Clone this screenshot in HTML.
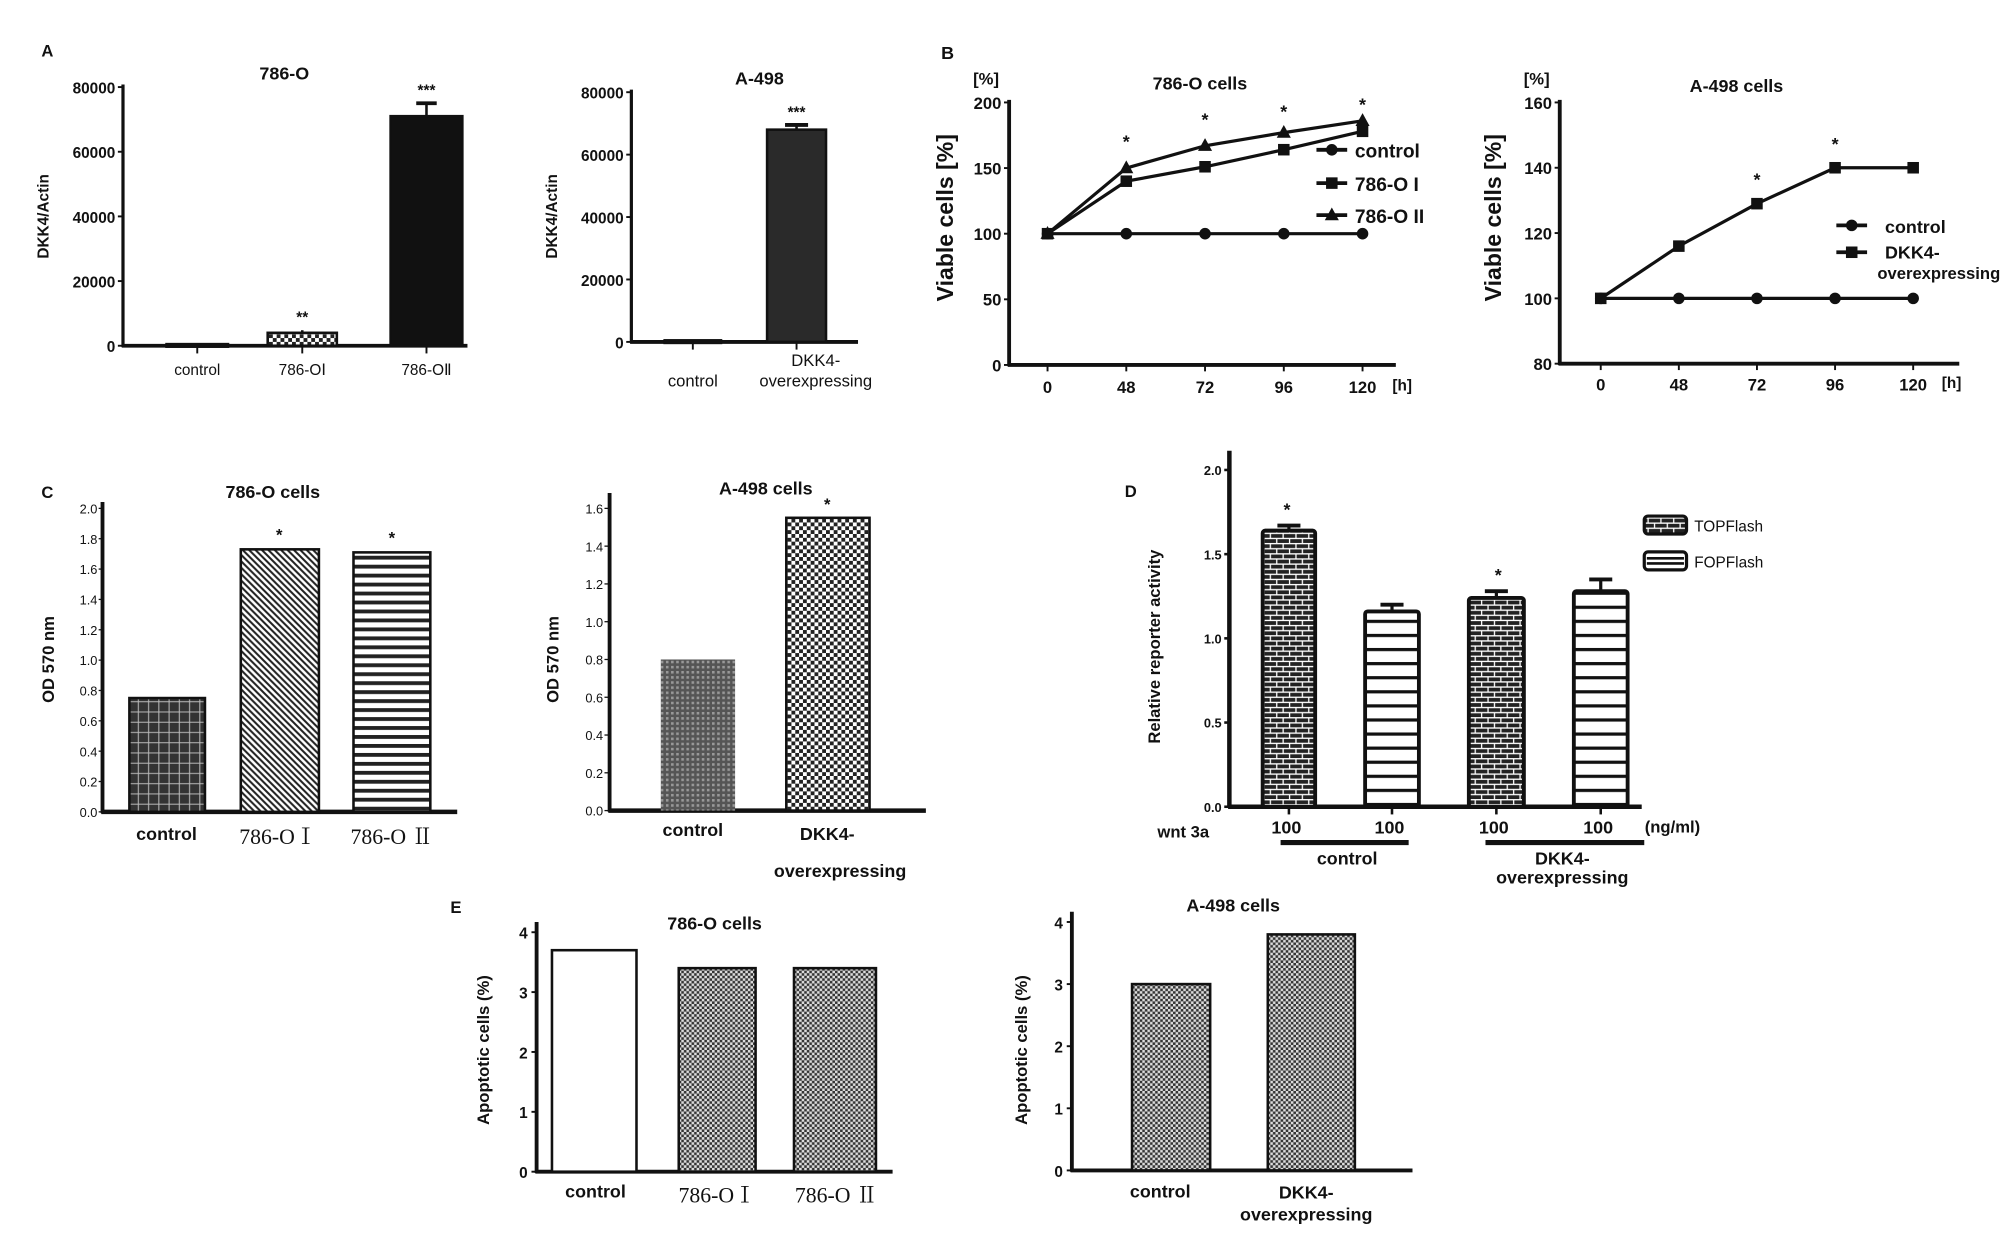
<!DOCTYPE html>
<html><head><meta charset="utf-8"><style>
html,body{margin:0;padding:0;background:#fff;}
svg{display:block;}
text{font-family:"Liberation Sans",sans-serif;fill:#111;}
.b{font-weight:bold;}
.s{font-family:"Liberation Serif","Noto Serif CJK SC",serif;}
</style></head><body>
<svg id="fig" xmlns="http://www.w3.org/2000/svg" width="2008" height="1237" viewBox="0 0 1568 966">
<defs>
<pattern id="checker" width="6" height="6" patternUnits="userSpaceOnUse"><rect width="6" height="6" fill="#222"/><rect width="3" height="3" fill="#fff"/><rect x="3" y="3" width="3" height="3" fill="#fff"/></pattern>
<pattern id="checkerFine" width="4" height="4" patternUnits="userSpaceOnUse"><rect width="4" height="4" fill="#333"/><rect width="2" height="2" fill="#ddd"/><rect x="2" y="2" width="2" height="2" fill="#ddd"/></pattern>
<pattern id="dots" width="4" height="4" patternUnits="userSpaceOnUse"><rect width="4" height="4" fill="#555"/><rect width="2" height="2" fill="#999"/></pattern>
<pattern id="diag" width="5" height="5" patternUnits="userSpaceOnUse"><rect width="5" height="5" fill="#fff"/><path d="M0,0 L5,5 M-1,4 L1,6 M4,-1 L6,1" stroke="#222" stroke-width="1.6"/></pattern>
<pattern id="hstripe" width="6" height="7" patternUnits="userSpaceOnUse"><rect width="6" height="7" fill="#fff"/><rect y="0" width="6" height="3" fill="#222"/></pattern>
<pattern id="hstripe2" width="6" height="11" patternUnits="userSpaceOnUse"><rect width="6" height="11" fill="#fff"/><rect y="0" width="6" height="2.5" fill="#111"/></pattern>
<pattern id="brick" width="10" height="8" patternUnits="userSpaceOnUse"><rect width="10" height="8" fill="#222"/><path d="M0,0.5 H10 M0,4.5 H10 M2,0 V4 M7,4 V8" stroke="#fff" stroke-width="1"/></pattern>
<pattern id="grid" width="8" height="8" patternUnits="userSpaceOnUse"><rect width="8" height="8" fill="#333"/><path d="M0,4 H8 M4,0 V8" stroke="#bbb" stroke-width="0.8"/></pattern>
</defs>
<g id="root"></g>
</svg>
<script>
// ---------- data ----------
const aLeftCats = ["control","786-OⅠ","786-OⅡ"];
const aLeftVals = [500,4000,71000];
const aLeftErr = [600,4800,75000];
const aLeftTicks = [0,20000,40000,60000,80000];
const aRightCats = ["control","DKK4-overexpressing"];
const aRightVals = [500,68000];
const aRightErr = [600,69500];
const bHours = [0,48,72,96,120];
const bLeftControl = [100,100,100,100,100];
const bLeftOI = [100,140,151,164,178];
const bLeftOII = [100,150,167,177,186];
const bLeftTicks = [0,50,100,150,200];
const bRightControl = [100,100,100,100,100];
const bRightDKK4 = [100,116,129,140,140];
const bRightTicks = [80,100,120,140,160];
const cLeftCats = ["control","786-OⅠ","786-O Ⅱ"];
const cLeftVals = [0.75,1.73,1.71];
const cLeftTicks = ["0.0","0.2","0.4","0.6","0.8","1.0","1.2","1.4","1.6","1.8","2.0"];
const cRightCats = ["control","DKK4-overexpressing"];
const cRightVals = [0.80,1.55];
const cRightTicks = ["0.0","0.2","0.4","0.6","0.8","1.0","1.2","1.4","1.6"];
const dVals = [1.64,1.16,1.24,1.28];
const dErr = [1.67,1.20,1.28,1.35];
const dTicks = ["0.0","0.5","1.0","1.5","2.0"];
const eLeftCats = ["control","786-OⅠ","786-O Ⅱ"];
const eLeftVals = [3.7,3.4,3.4];
const eRightCats = ["control","DKK4-overexpressing"];
const eRightVals = [3.0,3.8];
const eTicks = [0,1,2,3,4];

const NS="http://www.w3.org/2000/svg";
const root=document.getElementById('root');
function el(tag,attrs,txt){const e=document.createElementNS(NS,tag);for(const k in attrs)e.setAttribute(k,attrs[k]);if(txt!==undefined)e.textContent=txt;root.appendChild(e);return e;}
function T(x,y,s,size,cls,anchor){const e=el('text',{x:x,y:y,'font-size':size,'text-anchor':anchor||'middle','class':cls||''},s);return e;}
function VT(x,y,s,size,cls){const e=el('text',{x:0,y:0,'font-size':size,'text-anchor':'middle','class':cls||'',transform:`translate(${x},${y}) rotate(-90)`},s);return e;}
function lin(d0,d1,r0,r1){return v=>r0+(v-d0)*(r1-r0)/(d1-d0);}
function line(x1,y1,x2,y2,w){return el('line',{x1,y1,x2,y2,stroke:'#111','stroke-width':w||2});}

// ---------- Panel A ----------
let t;
t=T(37,44,"A",13,"b");
t=T(222,62,"786-O",14,"b");
let y=lin(0,80000,270,68);
line(96,66,96,271,2.5);line(95,270,365,270,3);
aLeftTicks.forEach(v=>{line(92,y(v),96,y(v),1.5);t=T(90,y(v)+5,String(v),12,"b","end");});
t=VT(38,169,"DKK4/Actin",12,"b");
const aLC=[154,236,333],aLW=[48,54,56],aLF=["#222","url(#checker)","#111"];
aLeftVals.forEach((v,i)=>{
 line(aLC[i],aLeftErr[i]>v?y(aLeftErr[i]):y(v),aLC[i],y(v),2);
 if(aLeftErr[i]>v+800) line(aLC[i]-8,y(aLeftErr[i]),aLC[i]+8,y(aLeftErr[i]),3);
 const r=el('rect',{x:aLC[i]-aLW[i]/2,y:y(v),width:aLW[i],height:Math.max(2,270-y(v)),fill:aLF[i],stroke:'#111','stroke-width':2});
 
 line(aLC[i],270,aLC[i],276,1.5);
 t=T(aLC[i],293,aLeftCats[i],12,"");
});
T(236,y(aLeftErr[1])-6,"**",12,"b");T(333,y(aLeftErr[2])-6,"***",12,"b");

t=T(593,66,"A-498",14,"b");
y=lin(0,80000,267,72);
line(493,70,493,268,2.5);line(492,267,670,267,3);
aLeftTicks.forEach(v=>{line(489,y(v),493,y(v),1.5);t=T(487,y(v)+5,String(v),12,"b","end");});
t=VT(435,169,"DKK4/Actin",12,"b");
const aRC=[541,622],aRW=[44,46];
aRightVals.forEach((v,i)=>{
 if(aRightErr[i]>v+800){line(aRC[i],y(aRightErr[i]),aRC[i],y(v),2);line(aRC[i]-9,y(aRightErr[i]),aRC[i]+9,y(aRightErr[i]),3);}
 const r=el('rect',{x:aRC[i]-aRW[i]/2,y:y(v),width:aRW[i],height:Math.max(2,267-y(v)),fill:'#2a2a2a',stroke:'#111','stroke-width':2});
 
 line(aRC[i],267,aRC[i],273,1.5);
});
T(622,y(aRightErr[1])-6,"***",12,"b");
T(541,302,"control",13,"");T(637,286,"DKK4-",13,"");T(637,302,"overexpressing",13,"");

// ---------- Panel B ----------
function stars(xs,ys){xs.forEach((x,i)=>T(x,ys[i],"*",14,"b"));}
function marker(type,x,y){
 if(type==='c')return el('circle',{cx:x,cy:y,r:4.5,fill:'#111'});
 if(type==='s')return el('rect',{x:x-4.5,y:y-4.5,width:9,height:9,fill:'#111'});
 return el('path',{d:`M${x},${y-6} L${x+5.5},${y+4} L${x-5.5},${y+4} Z`,fill:'#111'});
}
function series(xs,vals,xf,yf,type,name){
 const d=vals.map((v,i)=>(i?'L':'M')+xf(xs[i])+','+yf(v)).join(' ');
 const p=el('path',{d:d,fill:'none',stroke:'#111','stroke-width':2.5});
 
 vals.forEach((v,i)=>{const m=marker(type,xf(xs[i]),yf(v));});
}
const hourPos=[0,1,2,3,4];
t=T(740,46,"B",14,"b");
T(770,66,"[%]",13,"b");
t=T(937,70,"786-O cells",14,"b");
let x=lin(0,4,818,1064);y=lin(0,200,285,80);
line(788,78,788,286,3);line(787,285,1090,285,3);
bLeftTicks.forEach(v=>{line(784,y(v),788,y(v),1.5);T(782,y(v)+5,String(v),13,"b","end");});
bHours.forEach((h,i)=>{line(x(i),285,x(i),290,1.5);T(x(i),307,String(h),13,"b");});
T(1095,305,"[h]",12,"b");
t=VT(744,170,"Viable cells [%]",18,"b");
series(hourPos,bLeftControl,x,y,'c','b-left-control-line');
series(hourPos,bLeftOI,x,y,'s','b-left-786oi-line');
series(hourPos,bLeftOII,x,y,'t','b-left-786oii-line');
stars([x(1),x(2),x(3),x(4)],[y(bLeftOII[1])-16,y(bLeftOII[2])-16,y(bLeftOII[3])-12,y(bLeftOII[4])-8]);
[['c','control',117],['s','786-O I',143],['t','786-O II',168]].forEach(l=>{line(1028,l[2],1052,l[2],3);marker(l[0],1040,l[2]);t=T(1058,l[2]+6,l[1],15,"b","start");});

T(1200,66,"[%]",13,"b");
t=T(1356,72,"A-498 cells",14,"b");
x=lin(0,4,1250,1494);y=lin(80,160,284,80);
line(1218,78,1218,285,3);line(1217,284,1530,284,3);
bRightTicks.forEach(v=>{line(1214,y(v),1218,y(v),1.5);T(1212,y(v)+5,String(v),13,"b","end");});
bHours.forEach((h,i)=>{line(x(i),284,x(i),289,1.5);T(x(i),305,String(h),13,"b");});
T(1524,303,"[h]",12,"b");
t=VT(1172,170,"Viable cells [%]",18,"b");
series(hourPos,bRightControl,x,y,'c','b-right-control-line');
series(hourPos,bRightDKK4,x,y,'s','b-right-dkk4-line');
stars([x(2),x(3)],[y(bRightDKK4[2])-14,y(bRightDKK4[3])-14]);
line(1434,176,1458,176,3);marker('c',1446,176);T(1472,182,"control",14,"b","start");
line(1434,197,1458,197,3);marker('s',1446,197);T(1472,202,"DKK4-",14,"b","start");T(1466,218,"overexpressing",13,"b","start");

// ---------- Panel C ----------
t=T(37,389,"C",13,"b");
t=T(213,389,"786-O cells",14,"b");
y=lin(0,2.0,634,397);
line(80,392,80,635,3);line(79,634,357,634,3.5);
cLeftTicks.forEach(s=>{const v=parseFloat(s);line(77,y(v),80,y(v),1);T(76,y(v)+4,s,10,"","end");});
t=VT(42,515,"OD 570 nm",13,"b");
const cLX=[101,188,276],cLW=[59,61,60],cLF=["url(#grid)","url(#diag)","url(#hstripe)"];
cLeftVals.forEach((v,i)=>{const r=el('rect',{x:cLX[i],y:y(v),width:cLW[i],height:634-y(v),fill:cLF[i],stroke:'#111','stroke-width':2});});
T(218,y(cLeftVals[1])-7,"*",13,"b");T(306,y(cLeftVals[2])-7,"*",13,"b");
T(130,656,cLeftCats[0],14,"b");T(217,659,cLeftCats[1],17,"s");T(306,659,cLeftCats[2],17,"s");

t=T(598,386,"A-498 cells",14,"b");
y=lin(0,1.6,633,397);
line(476,385,476,634,3);line(475,633,723,633,3.5);
cRightTicks.forEach(s=>{const v=parseFloat(s);line(472,y(v),476,y(v),1);T(471,y(v)+4,s,10,"","end");});
t=VT(436,515,"OD 570 nm",13,"b");
const cRX=[516,614],cRW=[58,65],cRF=["url(#dots)","url(#checker)"];
cRightVals.forEach((v,i)=>{const r=el('rect',{x:cRX[i],y:y(v),width:cRW[i],height:633-y(v),fill:cRF[i],stroke:i?'#111':'none','stroke-width':2});});
T(646,y(cRightVals[1])-6,"*",13,"b");
T(541,653,"control",14,"b");T(646,656,"DKK4-",14,"b");T(656,685,"overexpressing",14,"b");

// ---------- Panel D ----------
t=T(883,388,"D",13,"b");
y=lin(0,2.0,630,367);
line(960,352,960,631,3.5);line(959,630,1282,630,3.5);
dTicks.forEach(s=>{const v=parseFloat(s);line(956,y(v),960,y(v),2);T(954,y(v)+4,s,10,"b","end");});
t=VT(906,505,"Relative reporter activity",13,"b");
const dX=[986,1066,1147,1229],dW=[41,42,43,42],dF=["url(#brick)","url(#hstripe2)","url(#brick)","url(#hstripe2)"];
dVals.forEach((v,i)=>{
 const c=dX[i]+dW[i]/2;
 line(c,y(dErr[i]),c,y(v),2.5);line(c-9,y(dErr[i]),c+9,y(dErr[i]),3);
 const r=el('rect',{x:dX[i],y:y(v),width:dW[i],height:630-y(v),fill:dF[i],stroke:'#111','stroke-width':3,rx:2});
 
 line(c,630,c,636,2);
 T(c-2,651,"100",14,"b");
});
T(1005,y(dErr[0])-8,"*",14,"b");T(1170,y(dErr[2])-8,"*",14,"b");
T(924,654,"wnt 3a",13,"b");T(1306,650,"(ng/ml)",13,"b");
line(1000,658,1100,658,4);T(1052,675,"control",14,"b");
line(1160,658,1284,658,4);T(1220,675,"DKK4-",14,"b");T(1220,690,"overexpressing",14,"b");
let lg=el('rect',{x:1284,y:403,width:33,height:14,rx:3,fill:'url(#brick)',stroke:'#111','stroke-width':2.5});
lg=el('rect',{x:1284,y:431,width:33,height:14,rx:3,fill:'#fff',stroke:'#111','stroke-width':2.5});
line(1286,436,1315,436,2);line(1286,440,1315,440,2);
T(1323,415,"TOPFlash",12,"","start");T(1323,443,"FOPFlash",12,"","start");

// ---------- Panel E ----------
t=T(356,713,"E",13,"b");
t=T(558,726,"786-O cells",14,"b");
y=lin(0,4,915,728);
line(419,720,419,916,3);line(418,915,697,915,3);
eTicks.forEach(v=>{line(415,y(v),419,y(v),1.5);T(412,y(v)+5,String(v),12,"b","end");});
t=VT(382,820,"Apoptotic cells (%)",13,"b");
const eLX=[431,530,620],eLW=[66,60,64],eLF=["#fff","url(#checkerFine)","url(#checkerFine)"];
eLeftVals.forEach((v,i)=>{const r=el('rect',{x:eLX[i],y:y(v),width:eLW[i],height:915-y(v),fill:eLF[i],stroke:'#111','stroke-width':2});});
T(465,935,eLeftCats[0],14,"b");T(560,939,eLeftCats[1],17,"s");T(653,939,eLeftCats[2],17,"s");

t=T(963,712,"A-498 cells",14,"b");
y=lin(0,4,914,720);
line(837,712,837,915,3);line(836,914,1103,914,3);
eTicks.forEach(v=>{line(833,y(v),837,y(v),1.5);T(830,y(v)+5,String(v),12,"b","end");});
t=VT(802,820,"Apoptotic cells (%)",13,"b");
const eRX=[884,990],eRW=[61,68],eRF=["url(#checkerFine)","url(#checkerFine)"];
eRightVals.forEach((v,i)=>{const r=el('rect',{x:eRX[i],y:y(v),width:eRW[i],height:914-y(v),fill:eRF[i],stroke:'#111','stroke-width':2});});
T(906,935,"control",14,"b");T(1020,936,"DKK4-",14,"b");T(1020,953,"overexpressing",14,"b");
</script>
</body></html>
